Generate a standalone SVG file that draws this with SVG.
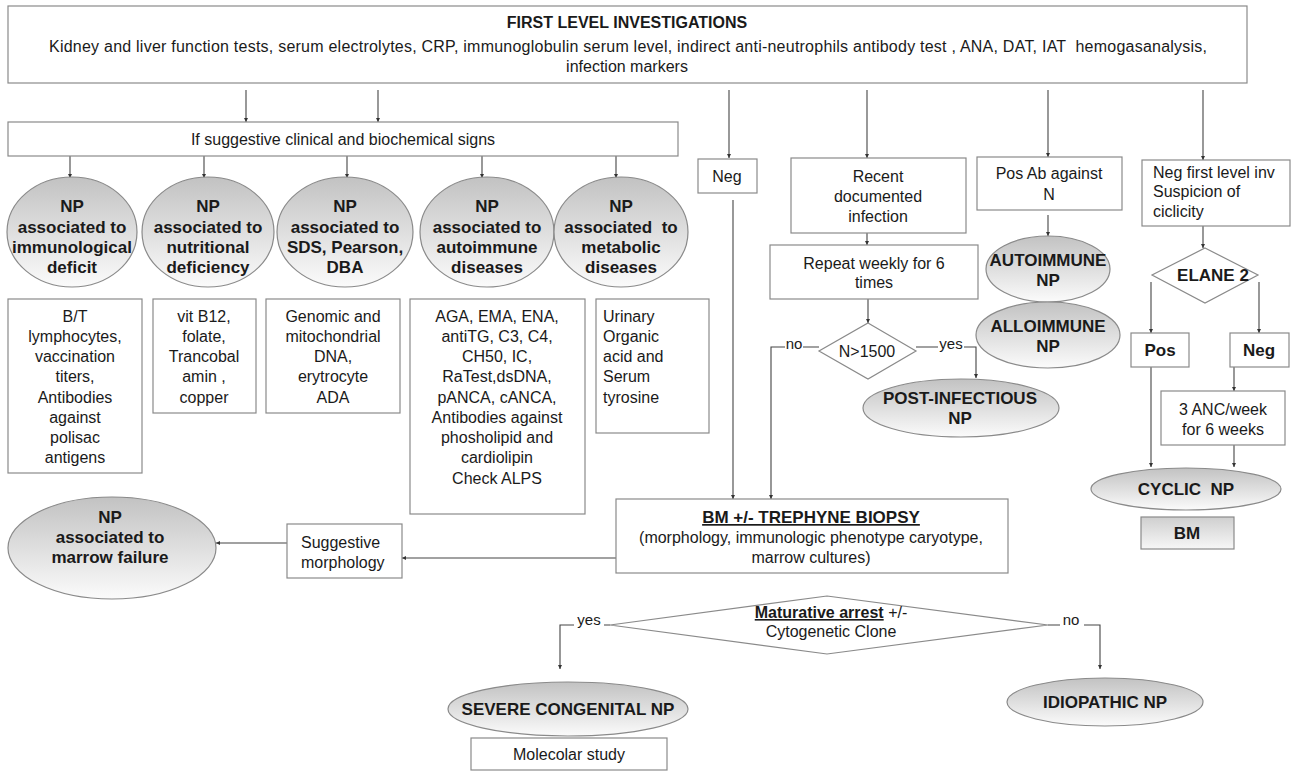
<svg xmlns="http://www.w3.org/2000/svg" width="1294" height="772" viewBox="0 0 1294 772">
<defs>
<linearGradient id="gr" x1="0" y1="0" x2="0" y2="1">
<stop offset="0" stop-color="#c2c2c2"/>
<stop offset="1" stop-color="#fbfbfb"/>
</linearGradient>
<linearGradient id="grb" x1="0" y1="0" x2="0" y2="1">
<stop offset="0" stop-color="#cfcfcf"/>
<stop offset="1" stop-color="#f7f7f7"/>
</linearGradient>
<marker id="ah" viewBox="0 0 6 6" refX="6" refY="3" markerWidth="4" markerHeight="4" orient="auto" markerUnits="userSpaceOnUse">
<path d="M0,0 L6,3 L0,6 z" fill="#333"/>
</marker>
</defs>
<style>
.box{fill:#fff;stroke:#8a8a8a;stroke-width:1.2}
.ell{fill:url(#gr);stroke:#8a8a8a;stroke-width:1.2}
.dia{fill:#fff;stroke:#8a8a8a;stroke-width:1.2}
.c{fill:none;stroke:#444;stroke-width:1.1}
.a{marker-end:url(#ah)}
text{font-family:"Liberation Sans",Arial,sans-serif;fill:#1a1a1a}
.t{font-size:16px;text-anchor:middle}
.tl{font-size:16px;text-anchor:start}
.b{font-size:17px;font-weight:bold;text-anchor:middle}
.lbl{font-size:15px;text-anchor:middle}
</style>
<rect width="1294" height="772" fill="#fff"/>

<g id="connectors">
<path class="c a" d="M246,90 V122"/>
<path class="c a" d="M378,90 V122"/>
<path class="c a" d="M70,156 V178"/>
<path class="c a" d="M204,156 V178"/>
<path class="c a" d="M347,156 V178"/>
<path class="c a" d="M482,156 V178"/>
<path class="c a" d="M616,156 V178"/>
<path class="c a" d="M729,90 V158"/>
<path class="c a" d="M733,200 V499"/>
<path class="c a" d="M867,90 V158"/>
<path class="c a" d="M867,207 V245"/>
<path class="c a" d="M868,299 V323"/>
<path class="c a" d="M819,347 H771 V499"/>
<path class="c a" d="M916,347 H976 V378"/>
<path class="c a" d="M1048,90 V157"/>
<path class="c a" d="M1048,215 V236"/>
<path class="c a" d="M1203,90 V160"/>
<path class="c a" d="M1203,226 V248"/>
<path class="c a" d="M1151,282 V333"/>
<path class="c a" d="M1259,282 V333"/>
<path class="c a" d="M1234,367 V391"/>
<path class="c a" d="M1234,445 V467"/>
<path class="c a" d="M1151,367 V467"/>
<path class="c a" d="M616,558 H402"/>
<path class="c a" d="M287,543 H216"/>
<path class="c a" d="M610,625 H560 V669"/>
<path class="c a" d="M1048,625 H1100 V669"/>
<rect x="785" y="336" width="18" height="18" fill="#fff"/>
<text class="lbl" x="794" y="349">no</text>
<rect x="938" y="336" width="26" height="18" fill="#fff"/>
<text class="lbl" x="951" y="349">yes</text>
<rect x="574" y="612" width="30" height="18" fill="#fff"/>
<text class="lbl" x="589" y="625">yes</text>
<rect x="1060" y="612" width="24" height="18" fill="#fff"/>
<text class="lbl" x="1071" y="625">no</text>
</g>

<g id="first-level">
<rect class="box" x="8" y="6" width="1239" height="77"/>
<text class="t" x="627" y="28" font-weight="bold">FIRST LEVEL INVESTIGATIONS</text>
<text class="t" x="628" y="52" textLength="1158" lengthAdjust="spacing" xml:space="preserve">Kidney and liver function tests, serum electrolytes, CRP, immunoglobulin serum level, indirect anti-neutrophils antibody test , ANA, DAT, IAT  hemogasanalysis,</text>
<text class="t" x="627" y="72">infection markers</text>
</g>

<g id="if-suggestive">
<rect class="box" x="8" y="122" width="670" height="34"/>
<text class="t" x="343" y="145">If suggestive clinical and biochemical signs</text>
</g>

<g id="np-immuno">
<ellipse class="ell" cx="72" cy="232" rx="65" ry="55"/>
<text class="b" x="72" y="212">NP</text>
<text class="b" x="72" y="233">associated to</text>
<text class="b" x="72" y="253">immunological</text>
<text class="b" x="72" y="273">deficit</text>
</g>
<g id="np-nutri">
<ellipse class="ell" cx="208" cy="232" rx="66" ry="55"/>
<text class="b" x="208" y="212">NP</text>
<text class="b" x="208" y="233">associated to</text>
<text class="b" x="208" y="253">nutritional</text>
<text class="b" x="208" y="273">deficiency</text>
</g>
<g id="np-sds">
<ellipse class="ell" cx="345" cy="232" rx="68" ry="55"/>
<text class="b" x="345" y="212">NP</text>
<text class="b" x="345" y="233">associated to</text>
<text class="b" x="345" y="253">SDS, Pearson,</text>
<text class="b" x="345" y="273">DBA</text>
</g>
<g id="np-autoimm">
<ellipse class="ell" cx="487" cy="232" rx="67" ry="55"/>
<text class="b" x="487" y="212">NP</text>
<text class="b" x="487" y="233">associated to</text>
<text class="b" x="487" y="253">autoimmune</text>
<text class="b" x="487" y="273">diseases</text>
</g>
<g id="np-metab">
<ellipse class="ell" cx="621" cy="232" rx="67" ry="55"/>
<text class="b" x="621" y="212">NP</text>
<text class="b" x="621" y="233" xml:space="preserve">associated  to</text>
<text class="b" x="621" y="253">metabolic</text>
<text class="b" x="621" y="273">diseases</text>
</g>

<g id="tests-immuno">
<rect class="box" x="8" y="299" width="134" height="174"/>
<text class="t" x="75" y="322">B/T</text>
<text class="t" x="75" y="342">lymphocytes,</text>
<text class="t" x="75" y="362">vaccination</text>
<text class="t" x="75" y="382">titers,</text>
<text class="t" x="75" y="403">Antibodies</text>
<text class="t" x="75" y="423">against</text>
<text class="t" x="75" y="443">polisac</text>
<text class="t" x="75" y="463">antigens</text>
</g>
<g id="tests-nutri">
<rect class="box" x="153" y="299" width="103" height="114"/>
<text class="t" x="204" y="322">vit B12,</text>
<text class="t" x="204" y="342">folate,</text>
<text class="t" x="204" y="362">Trancobal</text>
<text class="t" x="204" y="382">amin ,</text>
<text class="t" x="204" y="403">copper</text>
</g>
<g id="tests-sds">
<rect class="box" x="266" y="299" width="134" height="114"/>
<text class="t" x="333" y="322">Genomic and</text>
<text class="t" x="333" y="342">mitochondrial</text>
<text class="t" x="333" y="362">DNA,</text>
<text class="t" x="333" y="382">erytrocyte</text>
<text class="t" x="333" y="403">ADA</text>
</g>
<g id="tests-autoimm">
<rect class="box" x="410" y="299" width="175" height="215"/>
<text class="t" x="497" y="322">AGA, EMA, ENA,</text>
<text class="t" x="497" y="342">antiTG, C3, C4,</text>
<text class="t" x="497" y="362">CH50, IC,</text>
<text class="t" x="497" y="382">RaTest,dsDNA,</text>
<text class="t" x="497" y="403">pANCA, cANCA,</text>
<text class="t" x="497" y="423">Antibodies against</text>
<text class="t" x="497" y="443">phosholipid and</text>
<text class="t" x="497" y="463">cardiolipin</text>
<text class="t" x="497" y="484">Check ALPS</text>
</g>
<g id="tests-metab">
<rect class="box" x="596" y="299" width="113" height="134"/>
<text class="tl" x="603" y="322">Urinary</text>
<text class="tl" x="603" y="342">Organic</text>
<text class="tl" x="603" y="362">acid and</text>
<text class="tl" x="603" y="382">Serum</text>
<text class="tl" x="603" y="403">tyrosine</text>
</g>

<g id="neg">
<rect class="box" x="698" y="159" width="59" height="34"/>
<text class="t" x="727" y="182">Neg</text>
</g>
<g id="recent-infection">
<rect class="box" x="791" y="158" width="175" height="75"/>
<text class="t" x="878" y="182">Recent</text>
<text class="t" x="878" y="202">documented</text>
<text class="t" x="878" y="222">infection</text>
</g>
<g id="repeat-weekly">
<rect class="box" x="770" y="245" width="208" height="54"/>
<text class="t" x="874" y="269">Repeat weekly for 6</text>
<text class="t" x="874" y="288">times</text>
</g>
<g id="n1500">
<polygon class="dia" points="868,323 916,351 868,379 819,351"/>
<text class="t" x="867" y="357">N&gt;1500</text>
</g>
<g id="post-infectious">
<ellipse class="ell" cx="961" cy="408" rx="98" ry="29"/>
<text class="b" x="960" y="404">POST-INFECTIOUS</text>
<text class="b" x="960" y="424">NP</text>
</g>
<g id="pos-ab">
<rect class="box" x="977" y="157" width="145" height="53"/>
<text class="t" x="1049" y="179">Pos Ab against</text>
<text class="t" x="1049" y="200">N</text>
</g>
<g id="autoimmune-np">
<ellipse class="ell" cx="1048" cy="269" rx="62" ry="33"/>
<text class="b" x="1048" y="266">AUTOIMMUNE</text>
<text class="b" x="1048" y="286">NP</text>
</g>
<g id="alloimmune-np">
<ellipse class="ell" cx="1048" cy="335" rx="72" ry="33"/>
<text class="b" x="1048" y="332">ALLOIMMUNE</text>
<text class="b" x="1048" y="352">NP</text>
</g>

<g id="neg-first">
<rect class="box" x="1142" y="160" width="148" height="66"/>
<text class="tl" x="1153" y="178">Neg first level inv</text>
<text class="tl" x="1153" y="197">Suspicion of</text>
<text class="tl" x="1153" y="217">ciclicity</text>
</g>
<g id="elane">
<polygon class="dia" points="1205,248 1258,275 1205,303 1152,275"/>
<text class="b" x="1213" y="281">ELANE 2</text>
</g>
<g id="pos">
<rect class="box" x="1131" y="333" width="58" height="34"/>
<text class="b" x="1160" y="356">Pos</text>
</g>
<g id="neg2">
<rect class="box" x="1230" y="333" width="59" height="34"/>
<text class="b" x="1259" y="356">Neg</text>
</g>
<g id="anc">
<rect class="box" x="1161" y="391" width="124" height="54"/>
<text class="t" x="1223" y="415">3 ANC/week</text>
<text class="t" x="1223" y="435">for 6 weeks</text>
</g>
<g id="cyclic-np">
<ellipse class="ell" cx="1186" cy="489" rx="95" ry="21"/>
<text class="b" x="1186" y="495" xml:space="preserve">CYCLIC  NP</text>
</g>
<g id="bm-right">
<rect x="1141" y="517" width="93" height="32" fill="url(#grb)" stroke="#8a8a8a" stroke-width="1.2"/>
<text class="b" x="1187" y="539">BM</text>
</g>

<g id="bm-biopsy">
<rect class="box" x="616" y="499" width="392" height="74"/>
<text class="b" x="811" y="523" text-decoration="underline">BM +/- TREPHYNE BIOPSY</text>
<text class="t" x="811" y="543">(morphology, immunologic phenotype caryotype,</text>
<text class="t" x="811" y="563">marrow cultures)</text>
</g>
<g id="suggestive-morph">
<rect class="box" x="287" y="524" width="115" height="54"/>
<text class="tl" x="301" y="548">Suggestive</text>
<text class="tl" x="301" y="568">morphology</text>
</g>
<g id="marrow-failure">
<ellipse class="ell" cx="112" cy="548" rx="104" ry="51"/>
<text class="b" x="110" y="523">NP</text>
<text class="b" x="110" y="543">associated to</text>
<text class="b" x="110" y="563">marrow failure</text>
</g>

<g id="maturative">
<polygon class="dia" points="827,596 1048,625 827,654 610,625"/>
<text x="831" y="618" style="font-size:16px;text-anchor:middle"><tspan font-weight="bold" text-decoration="underline">Maturative arrest</tspan> +/-</text>
<text class="t" x="831" y="637">Cytogenetic Clone</text>
</g>
<g id="severe-congenital">
<ellipse class="ell" cx="568" cy="709" rx="120" ry="27"/>
<text class="b" x="568" y="715">SEVERE CONGENITAL NP</text>
</g>
<g id="molecular">
<rect class="box" x="471" y="738" width="196" height="32"/>
<text class="t" x="569" y="760">Molecolar study</text>
</g>
<g id="idiopathic">
<ellipse class="ell" cx="1105" cy="702" rx="98" ry="24"/>
<text class="b" x="1105" y="708">IDIOPATHIC NP</text>
</g>
</svg>
